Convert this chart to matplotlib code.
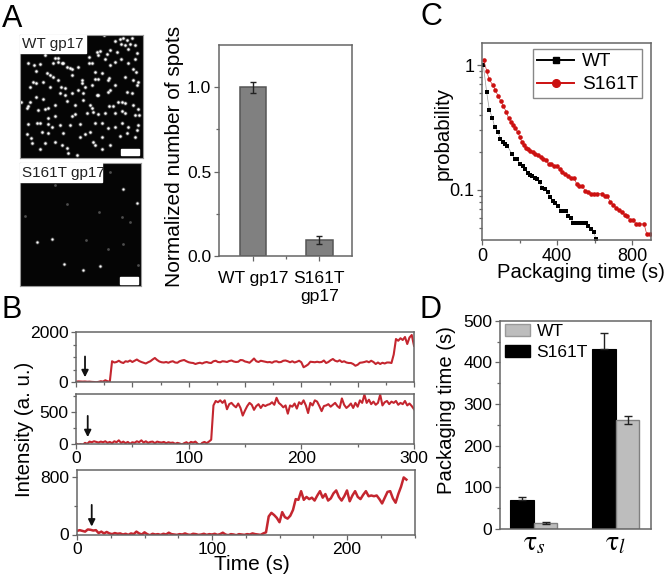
import numpy as np
import matplotlib
matplotlib.use('Agg')
import matplotlib.pyplot as plt
from matplotlib.lines import Line2D
from matplotlib.patches import Rectangle, Patch
from matplotlib.ticker import FixedLocator, NullFormatter

plt.rcParams['font.family'] = ['Liberation Sans', 'DejaVu Sans']
plt.rcParams['mathtext.fontset'] = 'stix'

W, H = 667, 577
GREY = '#666666'
RED = '#c4262f'

# panel A, spots
wt_spots_x = [268,300,315,325,335,350,318,330,345,360,247,255,275,285,305,340,365,248,318,340,360,270,222,
              230,285,300,240,262,282,355,362,330,355,370,38,58,75,90,120,130,145,155,165,170,190,222,115,130,140,
              62,95,105,115,130,170,55,62,45,85,105,138,150,200,202,240,248,280,210,230,135,150,170,190,205,245,250,278,285,300,335,350,365,
              17,38,35,45,62,85,100,90,68,120,155,180,205,225,232,235,282,295,310,320,330,355,370,372,320,330,360,300,270,250,215,180,170,120,100,75,40,100,65,112,135,165,195,240,262,280,300,320,340,370,365,35,48,80,100,120,145,195,210,225,235,240,262,285,315,335,360,75,140,155,160,185,260,90,50]
wt_spots_y = [15,32,28,25,30,25,42,45,42,45,65,62,72,60,65,58,70,75,88,100,88,88,80,
              100,105,95,125,130,145,118,125,140,150,155,98,105,103,75,85,85,100,112,113,118,112,100,100,95,100,
              122,130,135,140,150,135,155,160,170,155,170,172,175,150,158,148,148,150,170,165,190,195,190,180,190,195,195,185,180,165,185,190,165,
              217,228,235,215,200,207,235,237,240,225,213,225,210,225,235,245,228,228,215,215,218,225,238,255,243,250,255,250,250,252,248,252,258,258,265,280,282,283,280,290,285,285,283,280,278,295,290,280,290,285,300,312,325,305,310,335,310,320,312,305,335,345,322,345,318,308,320,358,345,355,370,375,358,340,340]
s161t_bright_x = [310,97,52,131,241,188,350]
s161t_bright_y = [73,223,232,296,303,315,113]
s161t_dim_x = [105,270,140,238,330,197,265,15,307,355,310]
s161t_dim_y = [60,22,118,140,172,226,252,152,155,300,238]

# panel A bars
spot_labels = ['WT gp17', 'S161T\ngp17']
spot_values = [1.0, 0.095]
spot_errors = [0.032, 0.025]

# panel B traces, one value every 2 s
trace1 = [10,25,20,15,20,10,15,5,0,-10,5,30,15,70,30,10,830,780,800,850,790,760,830,810,860,800,850,900,840,800,770,740,
          790,830,900,960,880,820,790,780,800,770,810,830,780,770,830,860,880,830,790,770,760,720,750,770,740,780,800,770,
          760,830,850,800,790,830,820,800,840,860,820,800,810,880,870,820,800,770,850,940,830,800,850,830,810,790,800,770,
          820,830,790,800,850,860,830,790,830,780,810,850,790,590,640,700,810,800,790,810,790,800,860,760,800,870,920,850,
          820,870,800,830,780,760,760,720,650,690,770,780,800,830,790,850,800,720,780,720,770,740,780,780,760,1100,1720,1650,
          1750,1680,1800,1520,1780,1880,1450]
trace2 = [0,-20,-10,-20,10,-5,30,20,35,25,15,30,20,35,10,25,5,35,20,50,10,30,5,25,-5,20,10,35,20,50,15,35,10,25,30,5,30,20,15,25,
          5,20,10,15,-5,10,0,-15,5,20,-5,25,15,30,-5,-25,10,25,5,30,60,600,670,650,680,640,680,540,620,640,600,570,630,560,440,520,
          590,640,610,530,590,620,560,610,590,610,620,650,610,720,640,610,570,600,470,600,580,630,550,650,620,680,600,480,640,600,
          680,660,590,510,590,600,620,580,610,640,590,560,710,610,560,590,630,560,640,580,680,640,770,640,690,620,660,610,640,770,
          600,650,670,620,660,640,670,610,640,620,670,600,630,590,540]
trace3 = [50,60,50,40,70,65,55,60,20,40,15,35,15,5,20,10,15,0,10,-5,15,5,40,15,0,30,5,-10,10,0,5,-5,10,0,25,5,0,-5,5,0,15,0,-5,10,5,
          -5,0,10,-5,5,0,10,-5,5,25,0,-10,5,0,-10,5,0,-5,5,0,15,5,0,-5,15,30,250,300,270,230,170,310,240,220,260,340,490,480,600,480,
          520,490,510,470,540,600,510,560,470,500,570,610,520,470,530,610,460,540,600,520,490,550,600,530,540,530,540,490,430,510,590,600,
          500,440,560,660,790,760]

# panel C survival curves
wt_time = [7,25,39,55,67,85,98,110,122,135,160,174,188,202,217,229,243,256,268,280,293,307,321,335,350,362,376,389,405,419,433,446,460,474,486,502,520,538,552,564,579,595,607]
wt_prob = [1.0,0.604,0.439,0.379,0.321,0.293,0.254,0.242,0.233,0.225,0.194,0.177,0.176,0.161,0.157,0.146,0.138,0.133,0.129,0.125,0.123,0.115,0.104,0.102,0.097,0.0873,0.0822,0.0792,0.075,0.0684,0.0684,0.0684,0.0623,0.0593,0.0544,0.0544,0.0544,0.0544,0.0544,0.0515,0.0491,0.0464,0.0405]
mut_time = [9,25,37,57,71,85,99,114,130,142,154,167,178,190,201,211,222,233,245,257,272,284,298,312,327,341,355,369,383,401,414,428,444,458,472,490,504,518,534,550,564,579,596,614,639,653,667,682,698,714,728,744,760,774,788,806,820,838,863,877,895]
mut_prob = [1.10,0.90,0.773,0.692,0.631,0.569,0.519,0.470,0.418,0.374,0.352,0.331,0.311,0.289,0.267,0.244,0.229,0.218,0.211,0.206,0.200,0.194,0.189,0.185,0.176,0.174,0.160,0.160,0.156,0.156,0.147,0.139,0.134,0.130,0.125,0.125,0.112,0.108,0.108,0.098,0.097,0.0935,0.0935,0.0935,0.0935,0.0895,0.0895,0.0807,0.0764,0.0722,0.0692,0.0671,0.0631,0.0619,0.0575,0.0575,0.0535,0.0535,0.0535,0.0445,0.0445]

# panel D bars
tau_labels = [r'$\mathrm{\tau}_{s}$', r'$\mathrm{\tau}_{l}$']
tau_s161t = [70, 432]
tau_s161t_err = [8, 38]
tau_wt = [15, 261]
tau_wt_err = [3, 10]


def px_axes(fig, x0, y0, x1, y1):
    # box given in picture pixels, y from the top
    return fig.add_axes([x0 / W, 1 - y1 / H, (x1 - x0) / W, (y1 - y0) / H])


def style(ax, size=12.6):
    for sp in ax.spines.values():
        sp.set_color(GREY)
        sp.set_linewidth(1.1)
    ax.tick_params(which='both', direction='out', color=GREY, width=0.9, labelsize=size, pad=2)
    ax.tick_params(which='major', length=3.5)
    ax.tick_params(which='minor', length=2)


def arrow(ax, x, y_tip, y_tail):
    ax.annotate('', xy=(x, y_tip), xytext=(x, y_tail),
                arrowprops=dict(arrowstyle='-|>', color='#111111', lw=1.3, mutation_scale=10, shrinkA=0, shrinkB=0))


fig = plt.figure(figsize=(W / 100, H / 100), dpi=100)

for lab, x, y in [('A', 2, 27), ('B', 2, 318), ('C', 421, 25), ('D', 420, 318)]:
    fig.text(x / W, 1 - y / H, lab, fontsize=22, ha='left', va='baseline')

# micrographs
ax = px_axes(fig, 20, 35, 143, 158)
ax.set_facecolor('#050505')
ax.scatter(wt_spots_x, wt_spots_y, s=9, color='white', alpha=0.3, linewidths=0)
ax.scatter(wt_spots_x, wt_spots_y, s=3, color='white', linewidths=0)
ax.add_patch(Rectangle((318, 357), 54, 18, color='white', zorder=3))
ax.add_patch(Rectangle((15, 15), 198, 55, color='white', zorder=3))
ax.text(20, 43, 'WT gp17', fontsize=11, va='center', color='#222222', zorder=4)
ax.set_xlim(15, 384)
ax.set_ylim(384, 15)
ax.set_xticks([])
ax.set_yticks([])
for sp in ax.spines.values():
    sp.set_color('#999999')

ax = px_axes(fig, 20, 163, 141, 286)
ax.set_facecolor('#050505')
ax.scatter(s161t_dim_x, s161t_dim_y, s=4, color='#4d4d4d', linewidths=0)
ax.scatter(s161t_bright_x, s161t_bright_y, s=8, color='white', alpha=0.3, linewidths=0)
ax.scatter(s161t_bright_x, s161t_bright_y, s=2.5, color='white', linewidths=0)
ax.add_patch(Rectangle((301, 337), 54, 19, color='white', zorder=3))
ax.add_patch(Rectangle((0, -6), 247, 56, color='white', zorder=3))
ax.text(5, 23, 'S161T gp17', fontsize=11, va='center', color='#222222', zorder=4)
ax.set_xlim(0, 363)
ax.set_ylim(363, -6)
ax.set_xticks([])
ax.set_yticks([])
for sp in ax.spines.values():
    sp.set_color('#999999')

# spot count bars
ax = px_axes(fig, 219, 45, 352, 256)
style(ax)
ax.bar([1, 2], spot_values, width=0.4, color='#808080', edgecolor='#555555', linewidth=1.1)
ax.errorbar([1, 2], spot_values, yerr=spot_errors, fmt='none', ecolor='#222222', elinewidth=1, capsize=2.5)
ax.set_xlim(0.49, 2.49)
ax.set_ylim(0, 1.25)
ax.set_xticks([1, 2])
ax.set_xticklabels(spot_labels, linespacing=1.3)
ax.xaxis.set_minor_locator(FixedLocator([1.5]))
ax.set_yticks([0, 0.5, 1.0])
ax.set_yticklabels(['0.0', '0.5', '1.0'])
ax.yaxis.set_minor_locator(FixedLocator([0.25, 0.75]))
ax.tick_params(axis='x', pad=7)
fig.text(174 / W, 1 - 156 / H, 'Normalized number of spots', fontsize=15, rotation=90, ha='center', va='center')

# intensity traces
ax = px_axes(fig, 76, 332, 414, 382)
style(ax)
ax.plot(np.arange(0, 301, 2), trace1, color=RED, lw=1.5)
ax.set_xlim(0, 300)
ax.set_ylim(0, 2000)
ax.set_xticks(np.arange(0, 301, 50))
ax.xaxis.set_minor_locator(FixedLocator(np.arange(25, 300, 50)))
ax.xaxis.set_major_formatter(NullFormatter())
ax.set_yticks([0, 2000])
ax.yaxis.set_minor_locator(FixedLocator([500, 1000, 1500]))
arrow(ax, 8, 190, 1020)

ax = px_axes(fig, 76, 394, 414, 443.5)
style(ax)
ax.plot(np.arange(0, 301, 2), trace2, color=RED, lw=1.5)
ax.set_xlim(0, 300)
ax.set_ylim(0, 780)
ax.set_xticks([0, 100, 200, 300])
ax.xaxis.set_minor_locator(FixedLocator([50, 150, 250]))
ax.set_yticks([0, 500])
ax.yaxis.set_minor_locator(FixedLocator([250, 750]))
arrow(ax, 10.4, 100, 435)

ax = px_axes(fig, 77, 470, 414.5, 534.5)
style(ax)
ax.plot(np.arange(0, 245, 2), trace3, color=RED, lw=1.8)
ax.set_xlim(0, 250)
ax.set_ylim(0, 893)
ax.set_xticks([0, 100, 200])
ax.xaxis.set_minor_locator(FixedLocator([25, 50, 75, 125, 150, 175, 225, 250]))
ax.set_yticks([0, 800])
ax.yaxis.set_minor_locator(FixedLocator([400]))
arrow(ax, 10.9, 110, 410)
fig.text(25 / W, 1 - 429 / H, 'Intensity (a. u.)', fontsize=14.8, rotation=90, ha='center', va='center')
fig.text(252 / W, 1 - 564 / H, 'Time (s)', fontsize=15, ha='center', va='center')

# packaging time distributions
ax = px_axes(fig, 482, 43, 651, 240)
style(ax, 13)
ax.set_yscale('log')
ax.plot(wt_time, wt_prob, color='#999999', lw=0.5, marker='s', ms=2.8, mfc='black', mec='black', mew=0)
ax.plot(mut_time, mut_prob, color='#cc3333', lw=0.5, marker='o', ms=3.3, mfc='#cc1111', mec='#cc1111', mew=0)
ax.set_xlim(0, 900)
ax.set_ylim(0.0398, 1.5)
ax.set_xticks([0, 400, 800])
ax.xaxis.set_minor_locator(FixedLocator([200, 600]))
ax.yaxis.set_major_locator(FixedLocator([0.1, 1]))
ax.set_yticklabels(['0.1', '1'])
ax.yaxis.set_minor_locator(FixedLocator([0.05, 0.06, 0.07, 0.08, 0.09, 0.2, 0.3, 0.4, 0.5, 0.6, 0.7, 0.8, 0.9]))
ax.yaxis.set_minor_formatter(NullFormatter())
handles = [Line2D([], [], color='black', lw=1.4, marker='s', ms=4.5),
           Line2D([], [], color='#cc1111', lw=1.4, marker='o', ms=5.5)]
ax.legend(handles, ['WT', 'S161T'], fontsize=13.7, loc='upper right', bbox_to_anchor=(0.947, 0.97), borderaxespad=0,
          fancybox=False, edgecolor='#888888', framealpha=1, handlelength=1.95, labelspacing=0.3, borderpad=0.22, handletextpad=0.4)
fig.text(580.5 / W, 1 - 273 / H, 'Packaging time (s)', fontsize=14.6, ha='center', va='center')
fig.text(443 / W, 1 - 133 / H, 'probability', fontsize=14.7, rotation=90, ha='center', va='center')

# time constants
ax = px_axes(fig, 500, 320.7, 651, 529)
style(ax)
pos = np.array([1, 2])
ax.bar(pos - 0.145, tau_s161t, width=0.285, color='black', edgecolor='black', linewidth=0.8)
ax.bar(pos + 0.145, tau_wt, width=0.285, color='#bdbdbd', edgecolor='#808080', linewidth=1)
ax.errorbar(pos - 0.145, tau_s161t, yerr=[[0, 0], tau_s161t_err], fmt='none', ecolor='#222222', elinewidth=1, capsize=3)
ax.errorbar(pos + 0.145, tau_wt, yerr=tau_wt_err, fmt='none', ecolor='#222222', elinewidth=1, capsize=3)
ax.set_xlim(0.585, 2.43)
ax.set_ylim(0, 500)
ax.set_xticks(pos)
ax.set_xticklabels(tau_labels, fontsize=20)
ax.tick_params(axis='x', length=0, pad=1)
ax.set_yticks(np.arange(0, 501, 100))
ax.yaxis.set_minor_locator(FixedLocator(np.arange(50, 500, 100)))
ax.legend([Patch(facecolor='#bdbdbd', edgecolor='#999999'), Patch(facecolor='black', edgecolor='black')], ['WT', 'S161T'],
          fontsize=12.5, loc='upper left', bbox_to_anchor=(0.035, 0.985), borderaxespad=0, frameon=False,
          handlelength=1.45, handleheight=0.7, labelspacing=0.35, handletextpad=0.35, borderpad=0)
fig.text(447 / W, 1 - 410 / H, 'Packaging time (s)', fontsize=14.6, rotation=90, ha='center', va='center')

fig.savefig('out.png', dpi=100)
